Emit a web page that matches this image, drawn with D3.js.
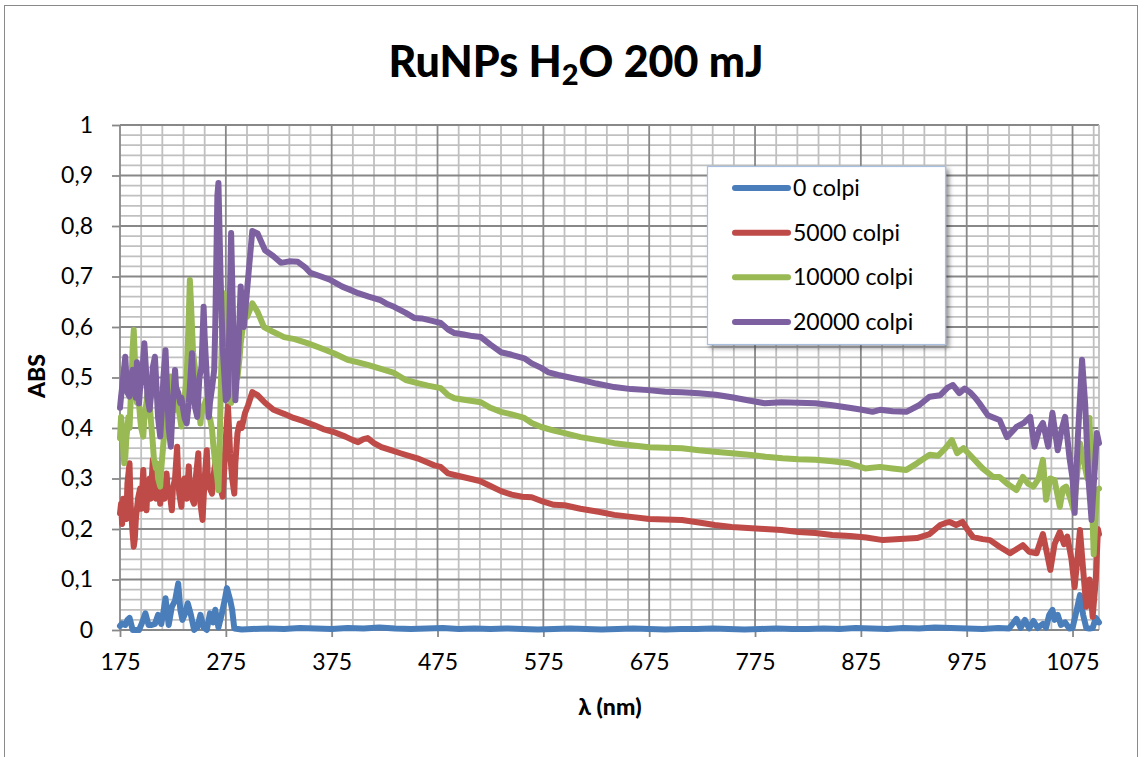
<!DOCTYPE html>
<html><head><meta charset="utf-8">
<script src="https://cdn.jsdelivr.net/npm/d3@7"></script>
<style>
html,body{margin:0;padding:0;background:#fff;}
svg{display:block;font-family:Lato,"Open Sans",sans-serif;}
</style></head>
<body>
<svg id="chart" width="1144" height="757"></svg>
<script>
// ---------- DATA ----------
const seriesNames = ["0 colpi","5000 colpi","10000 colpi","20000 colpi"];
const seriesColors = ["#4A7EBB","#BE4B48","#98B954","#7D60A0"];
const xTicks = [175,275,375,475,575,675,775,875,975,1075];
const yTicks = [0,0.1,0.2,0.3,0.4,0.5,0.6,0.7,0.8,0.9,1];

const lam0 = [175,177,180,182,184,187,190,193,196,199,202,205,208,211,214,216,218,221,224,227,230,232,234,236,239,242,245,248,251,254,257,260,263,265,268,271,274,276,279,281,283,290,300,315,330,345,360,375,390,405,420,435,450,465,480,495,510,525,540,555,570,585,600,615,630,645,660,675,690,705,720,735,750,765,780,795,810,825,840,855,870,885,900,915,930,945,960,975,990,1005,1015,1022,1026,1030,1034,1038,1042,1047,1050,1053,1056,1058,1061,1064,1068,1072,1075,1079,1082,1085,1088,1091,1094,1097,1100];
const abs0 = [0.008,0.013,0.010,0.020,0.024,0.000,0.000,0.000,0.015,0.033,0.010,0.010,0.012,0.030,0.012,0.035,0.063,0.010,0.046,0.058,0.092,0.040,0.020,0.030,0.053,0.030,0.000,0.005,0.030,0.005,0.000,0.033,0.015,0.040,0.005,0.030,0.060,0.083,0.060,0.040,0.003,0.001,0.002,0.003,0.002,0.004,0.003,0.002,0.004,0.003,0.005,0.003,0.002,0.003,0.004,0.002,0.003,0.002,0.003,0.002,0.001,0.002,0.003,0.002,0.001,0.002,0.003,0.002,0.001,0.002,0.002,0.003,0.002,0.001,0.002,0.003,0.002,0.002,0.003,0.002,0.004,0.003,0.002,0.004,0.003,0.005,0.004,0.003,0.002,0.004,0.003,0.022,0.004,0.020,0.003,0.018,0.004,0.012,0.005,0.030,0.040,0.020,0.030,0.010,0.015,0.003,0.004,0.040,0.069,0.030,0.004,0.003,0.004,0.024,0.015];

const lam5000 = [175,176,177,178,180,181,182,184,185,186,187,188,189,190,191,192,194,195,197,198,200,201,203,204,206,207,209,211,213,214,216,217,219,220,222,224,225,227,229,230,231,233,234,236,238,240,241,243,245,246,247,249,250,251,253,254,255,257,258,260,262,263,265,267,268,270,272,273,275,277,278,279,281,283,284,286,288,290,293,296,300,305,312,320,330,339,348,358,367,377,388,395,400,405,409,415,422,431,440,448,456,465,472,478,485,495,505,515,525,535,545,555,564,575,585,595,610,627,642,658,675,690,706,722,737,753,768,784,800,816,832,848,865,880,896,912,928,940,950,955,959,965,971,976,981,990,997,1006,1016,1022,1028,1034,1041,1047,1051,1054,1058,1063,1067,1070,1074,1077,1080,1082,1085,1088,1091,1094,1097,1099,1100];
const abs5000 = [0.231,0.250,0.210,0.260,0.258,0.220,0.290,0.330,0.250,0.220,0.190,0.165,0.180,0.220,0.240,0.260,0.280,0.240,0.317,0.270,0.237,0.280,0.300,0.260,0.337,0.290,0.260,0.300,0.250,0.270,0.290,0.260,0.310,0.280,0.270,0.237,0.280,0.300,0.363,0.300,0.270,0.244,0.280,0.300,0.260,0.324,0.280,0.260,0.250,0.290,0.310,0.350,0.280,0.250,0.218,0.260,0.300,0.356,0.300,0.280,0.270,0.300,0.330,0.350,0.300,0.280,0.264,0.300,0.380,0.443,0.400,0.350,0.300,0.270,0.330,0.390,0.409,0.400,0.429,0.445,0.471,0.465,0.450,0.436,0.428,0.420,0.414,0.406,0.398,0.392,0.383,0.376,0.372,0.378,0.380,0.370,0.362,0.356,0.350,0.345,0.340,0.332,0.326,0.323,0.310,0.305,0.300,0.295,0.285,0.275,0.268,0.264,0.263,0.254,0.248,0.247,0.240,0.234,0.228,0.224,0.220,0.219,0.218,0.213,0.208,0.204,0.202,0.200,0.198,0.194,0.192,0.188,0.186,0.183,0.178,0.180,0.182,0.190,0.208,0.212,0.214,0.208,0.214,0.198,0.184,0.180,0.178,0.165,0.152,0.160,0.168,0.155,0.152,0.190,0.150,0.119,0.170,0.194,0.170,0.185,0.140,0.085,0.150,0.198,0.120,0.046,0.100,0.026,0.100,0.200,0.190];

const lam10000 = [175,176,177,178,179,180,181,183,184,185,186,187,188,189,190,191,193,194,195,197,198,200,202,203,204,206,207,209,210,211,213,214,216,218,219,221,223,224,225,227,228,230,231,233,234,236,238,240,241,242,243,244,246,247,249,251,252,254,256,257,259,260,262,263,265,267,268,269,270,271,272,273,274,275,277,279,280,281,283,285,286,288,289,291,293,295,297,300,305,311,320,330,340,352,365,377,390,400,409,420,434,445,456,466,478,485,491,500,516,525,535,545,557,564,573,585,595,610,627,642,658,675,690,706,722,737,753,769,785,801,816,832,848,864,879,893,905,918,928,935,940,948,955,961,966,972,981,990,1000,1006,1013,1022,1028,1033,1038,1043,1047,1050,1054,1058,1063,1066,1069,1073,1076,1079,1082,1086,1089,1091,1093,1095,1098,1100];
const abs10000 = [0.380,0.422,0.400,0.360,0.330,0.343,0.380,0.422,0.400,0.450,0.500,0.560,0.594,0.540,0.480,0.450,0.449,0.420,0.400,0.383,0.420,0.450,0.488,0.450,0.420,0.370,0.340,0.320,0.330,0.300,0.284,0.320,0.370,0.416,0.440,0.460,0.502,0.480,0.450,0.436,0.450,0.460,0.430,0.403,0.430,0.460,0.500,0.620,0.693,0.650,0.600,0.550,0.515,0.480,0.450,0.409,0.430,0.440,0.455,0.440,0.420,0.420,0.396,0.370,0.330,0.300,0.277,0.350,0.450,0.550,0.620,0.667,0.640,0.620,0.600,0.520,0.450,0.500,0.561,0.530,0.500,0.540,0.567,0.600,0.639,0.620,0.630,0.647,0.630,0.600,0.590,0.580,0.576,0.568,0.558,0.548,0.535,0.530,0.525,0.518,0.509,0.495,0.489,0.484,0.479,0.465,0.459,0.456,0.451,0.440,0.432,0.427,0.420,0.410,0.402,0.395,0.390,0.382,0.376,0.370,0.366,0.362,0.361,0.360,0.356,0.353,0.350,0.347,0.343,0.340,0.338,0.337,0.334,0.330,0.320,0.323,0.320,0.317,0.330,0.340,0.347,0.345,0.360,0.376,0.350,0.360,0.340,0.320,0.303,0.303,0.290,0.277,0.303,0.290,0.284,0.300,0.337,0.258,0.300,0.297,0.244,0.280,0.284,0.260,0.238,0.300,0.370,0.330,0.300,0.420,0.280,0.150,0.277,0.280];

const lam20000 = [175,176,177,178,180,181,182,184,185,187,189,190,191,193,194,196,197,198,200,201,203,205,206,208,210,211,213,215,216,218,220,221,223,225,227,228,230,232,233,236,238,240,241,243,245,246,248,250,252,254,255,257,259,260,262,264,265,267,268,270,272,275,277,280,282,284,287,289,292,294,297,300,305,312,320,327,335,343,350,355,365,374,385,392,400,410,421,428,434,445,453,460,470,478,485,491,500,508,516,525,535,545,557,564,573,580,589,600,611,625,642,658,674,690,706,722,738,753,768,784,800,816,832,848,864,876,886,893,905,918,930,940,950,957,962,968,973,978,983,987,995,1006,1013,1022,1029,1035,1039,1044,1047,1052,1056,1061,1065,1068,1072,1075,1077,1080,1084,1087,1090,1093,1096,1098,1100];
const abs20000 = [0.440,0.462,0.480,0.500,0.541,0.500,0.470,0.462,0.500,0.515,0.480,0.460,0.530,0.449,0.480,0.500,0.540,0.568,0.500,0.460,0.436,0.480,0.520,0.541,0.460,0.420,0.383,0.450,0.500,0.554,0.450,0.400,0.363,0.450,0.515,0.480,0.470,0.449,0.460,0.420,0.409,0.450,0.480,0.548,0.460,0.440,0.422,0.500,0.520,0.640,0.580,0.500,0.422,0.450,0.480,0.515,0.600,0.860,0.885,0.700,0.560,0.455,0.462,0.786,0.600,0.455,0.560,0.680,0.600,0.647,0.720,0.790,0.785,0.752,0.740,0.727,0.730,0.729,0.718,0.707,0.700,0.693,0.680,0.674,0.667,0.660,0.653,0.645,0.640,0.628,0.618,0.617,0.612,0.608,0.595,0.588,0.585,0.582,0.580,0.565,0.550,0.545,0.538,0.528,0.519,0.510,0.505,0.500,0.495,0.488,0.481,0.477,0.475,0.472,0.471,0.469,0.466,0.461,0.455,0.449,0.451,0.450,0.449,0.445,0.440,0.436,0.432,0.436,0.433,0.432,0.445,0.462,0.465,0.480,0.485,0.469,0.478,0.471,0.460,0.449,0.425,0.416,0.382,0.402,0.410,0.422,0.363,0.400,0.410,0.363,0.430,0.356,0.400,0.422,0.343,0.300,0.232,0.380,0.535,0.445,0.300,0.218,0.320,0.390,0.370];

const lamArrays = [lam0, lam5000, lam10000, lam20000];
const absArrays = [abs0, abs5000, abs10000, abs20000];

// ---------- CHART ----------
const svg = d3.select("#chart");
const plot = {left:120, right:1099, top:125, bottom:630};
const FONT = "Lato, sans-serif";

svg.append("rect").attr("x",4.5).attr("y",5.5).attr("width",1133).attr("height",760)
  .attr("fill","#fff").attr("stroke","#8a8a8a").attr("stroke-width",1);

const x = d3.scaleLinear().domain([175,1100]).range([plot.left, plot.right]);
const y = d3.scaleLinear().domain([0,1]).range([plot.bottom, plot.top]);

const g = svg.append("g");
const minorX = d3.range(195, 1100, 20).filter(v => (v-175)%100 !== 0);
const minorY = d3.range(1, 50).map(k=>k*0.02).filter((v,i) => (i+1)%5 !== 0);
g.selectAll(".mx").data(minorX).join("line")
  .attr("x1",d=>x(d)).attr("x2",d=>x(d)).attr("y1",plot.top).attr("y2",plot.bottom)
  .attr("stroke","#c0c0c0").attr("stroke-width",1.8);
g.selectAll(".my").data(minorY).join("line")
  .attr("x1",plot.left).attr("x2",plot.right).attr("y1",d=>y(d)).attr("y2",d=>y(d))
  .attr("stroke","#c0c0c0").attr("stroke-width",1.8);
g.selectAll(".Mx").data(xTicks.slice(1)).join("line")
  .attr("x1",d=>x(d)).attr("x2",d=>x(d)).attr("y1",plot.top).attr("y2",plot.bottom)
  .attr("stroke","#888").attr("stroke-width",1.8);
g.selectAll(".My").data(yTicks.slice(1)).join("line")
  .attr("x1",plot.left).attr("x2",plot.right).attr("y1",d=>y(d)).attr("y2",d=>y(d))
  .attr("stroke","#888").attr("stroke-width",1.8);
g.append("line").attr("x1",plot.right).attr("x2",plot.right).attr("y1",plot.top).attr("y2",plot.bottom)
  .attr("stroke","#c0c0c0").attr("stroke-width",1.8);

const fmtY = d => d===0 ? "0" : d===1 ? "1" : d3.format(".1f")(d).replace(".",",");
const yAxis = d3.axisLeft(y).tickValues(yTicks).tickFormat(fmtY).tickSize(8).tickPadding(19);
const xAxis = d3.axisBottom(x).tickValues(xTicks).tickFormat(d3.format("d")).tickSize(7).tickPadding(17);
const ya = svg.append("g").attr("transform",`translate(${plot.left},0)`).call(yAxis);
const xa = svg.append("g").attr("transform",`translate(0,${plot.bottom})`).call(xAxis);
[ya,xa].forEach(a=>{
  a.select(".domain").attr("stroke","#888").attr("stroke-width",1.8);
  a.selectAll(".tick line").attr("stroke","#888").attr("stroke-width",1.8);
  a.selectAll("text").attr("font-family",FONT).attr("font-size",23).attr("fill","#000");
});
ya.select(".domain").attr("d",`M0,${plot.top}V${plot.bottom}`);
xa.select(".domain").attr("d",`M${plot.left},0H${plot.right}`);

const line = d3.line().x(d=>x(d[0])).y(d=>y(d[1]));
const lg = svg.append("g");
absArrays.forEach((arr,i)=>{
  const pts = arr.map((v,j)=>[lamArrays[i][j], v]);
  lg.append("path").datum(pts).attr("d",line)
    .attr("fill","none").attr("stroke",seriesColors[i]).attr("stroke-width",6)
    .attr("stroke-linejoin","round").attr("stroke-linecap","round");
});

const t = svg.append("text").attr("x",576).attr("y",77).attr("text-anchor","middle")
  .attr("font-family",FONT).attr("font-weight","900").attr("font-size",43).attr("fill","#000");
t.append("tspan").text("RuNPs H");
t.append("tspan").text("2").attr("font-size",29).attr("dy",8);
t.append("tspan").text("O 200 mJ").attr("dy",-8);

svg.append("text").attr("x",610).attr("y",715).attr("text-anchor","middle")
  .attr("font-family",FONT).attr("font-weight","900").attr("font-size",23).text("λ (nm)");
svg.append("text").attr("transform","translate(45,376) rotate(-90)").attr("text-anchor","middle")
  .attr("font-family",FONT).attr("font-weight","900").attr("font-size",23).text("ABS");

const defs = svg.append("defs");
const f = defs.append("filter").attr("id","sh").attr("x","-10%").attr("y","-10%").attr("width","130%").attr("height","130%");
f.append("feGaussianBlur").attr("in","SourceAlpha").attr("stdDeviation",2.5);
f.append("feOffset").attr("dx",3).attr("dy",3).attr("result","o");
f.append("feComponentTransfer").append("feFuncA").attr("type","linear").attr("slope",0.45);
const fm = f.append("feMerge"); fm.append("feMergeNode"); fm.append("feMergeNode").attr("in","SourceGraphic");
const leg = svg.append("g");
leg.append("rect").attr("x",707.5).attr("y",166.5).attr("width",238).attr("height",178)
  .attr("fill","#fff").attr("stroke","#a9bfe0").attr("stroke-width",1.2).attr("filter","url(#sh)");
const legY = d3.scalePoint().domain(seriesNames).range([188,322]);
seriesNames.forEach((n,i)=>{
  leg.append("line").attr("x1",735).attr("x2",788).attr("y1",legY(n)).attr("y2",legY(n))
    .attr("stroke",seriesColors[i]).attr("stroke-width",6).attr("stroke-linecap","round");
  leg.append("text").attr("x",793).attr("y",legY(n)+8).attr("font-family",FONT)
    .attr("font-size",23).attr("fill","#000").text(n);
});
</script>
</body></html>
